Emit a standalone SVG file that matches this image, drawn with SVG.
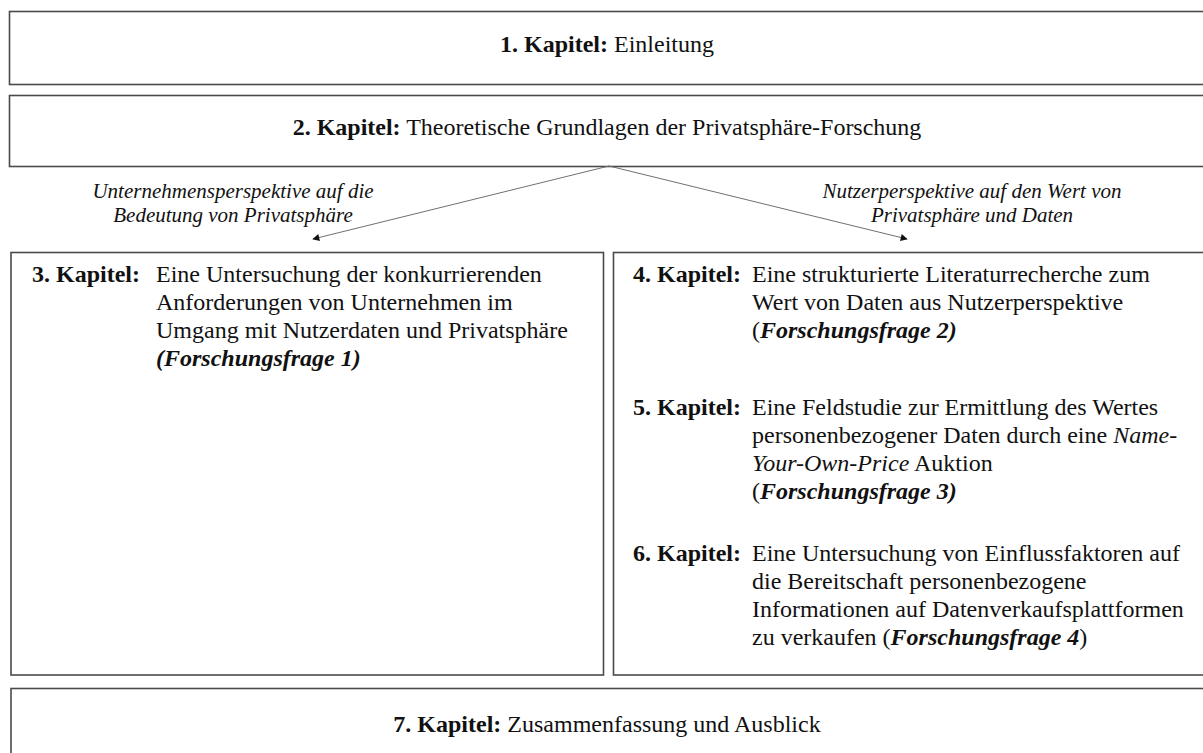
<svg xmlns="http://www.w3.org/2000/svg" width="1203" height="753" viewBox="0 0 1203 753">
<style>
.box{fill:#fff;stroke:#4a4a4a;stroke-width:1.6}
.t{font-family:"Liberation Serif","Times New Roman",serif;font-size:24px;fill:#111}
.lbl{font-family:"Liberation Serif","Times New Roman",serif;font-size:21px;font-style:italic;fill:#111}
.b{font-weight:bold}
.i{font-style:italic}
.bi{font-weight:bold;font-style:italic}
.con{stroke:#707070;stroke-width:1;fill:none}
</style>
<defs>
<marker id="ah" viewBox="0 0 10 10" refX="9" refY="5" markerWidth="9" markerHeight="7" markerUnits="userSpaceOnUse" orient="auto">
<path d="M0,0 L10,5 L0,10 z" fill="#111"/>
</marker>
</defs>
<rect width="1203" height="753" fill="#fff"/>
<g id="k1">
<rect class="box" x="9.5" y="11.5" width="1200" height="73"/>
<text class="t" x="607" y="52" text-anchor="middle"><tspan class="b">1. Kapitel:</tspan> Einleitung</text>
</g>
<g id="k2">
<rect class="box" x="9.5" y="95.5" width="1200" height="71"/>
<text class="t" x="607" y="135" text-anchor="middle"><tspan class="b">2. Kapitel:</tspan> Theoretische Grundlagen der Privatsphäre-Forschung</text>
</g>
<g id="connectors">
<line class="con" x1="609" y1="166" x2="313" y2="239" marker-end="url(#ah)"/>
<line class="con" x1="609" y1="166" x2="907" y2="239" marker-end="url(#ah)"/>
<text class="lbl" x="233" y="198" text-anchor="middle">Unternehmensperspektive auf die</text>
<text class="lbl" x="233" y="222" text-anchor="middle">Bedeutung von Privatsphäre</text>
<text class="lbl" x="972" y="198" text-anchor="middle">Nutzerperspektive auf den Wert von</text>
<text class="lbl" x="972" y="222" text-anchor="middle">Privatsphäre und Daten</text>
</g>
<g id="k3">
<rect class="box" x="11" y="252.5" width="592.5" height="422.5"/>
<text class="t b" x="32" y="282">3. Kapitel:</text>
<text class="t" x="156" y="282">Eine Untersuchung der konkurrierenden</text>
<text class="t" x="156" y="310">Anforderungen von Unternehmen im</text>
<text class="t" x="156" y="338">Umgang mit Nutzerdaten und Privatsphäre</text>
<text class="t bi" x="156" y="366">(Forschungsfrage 1)</text>
</g>
<g id="k4-6">
<rect class="box" x="613.5" y="252.5" width="600" height="422.5"/>
<g id="k4">
<text class="t b" x="633" y="282">4. Kapitel:</text>
<text class="t" x="752" y="282">Eine strukturierte Literaturrecherche zum</text>
<text class="t" x="752" y="310">Wert von Daten aus Nutzerperspektive</text>
<text class="t" x="752" y="338">(<tspan class="bi">Forschungsfrage 2)</tspan></text>
</g>
<g id="k5">
<text class="t b" x="633" y="415">5. Kapitel:</text>
<text class="t" x="752" y="415">Eine Feldstudie zur Ermittlung des Wertes</text>
<text class="t" x="752" y="443">personenbezogener Daten durch eine <tspan class="i">Name-</tspan></text>
<text class="t" x="752" y="471"><tspan class="i">Your-Own-Price</tspan> Auktion</text>
<text class="t" x="752" y="499">(<tspan class="bi">Forschungsfrage 3)</tspan></text>
</g>
<g id="k6">
<text class="t b" x="633" y="561">6. Kapitel:</text>
<text class="t" x="752" y="561">Eine Untersuchung von Einflussfaktoren auf</text>
<text class="t" x="752" y="589">die Bereitschaft personenbezogene</text>
<text class="t" x="752" y="617">Informationen auf Datenverkaufsplattformen</text>
<text class="t" x="752" y="645">zu verkaufen (<tspan class="bi">Forschungsfrage 4</tspan>)</text>
</g>
</g>
<g id="k7">
<rect class="box" x="11" y="688.5" width="1200" height="80"/>
<text class="t" x="607" y="732" text-anchor="middle"><tspan class="b">7. Kapitel:</tspan> Zusammenfassung und Ausblick</text>
</g>
</svg>
